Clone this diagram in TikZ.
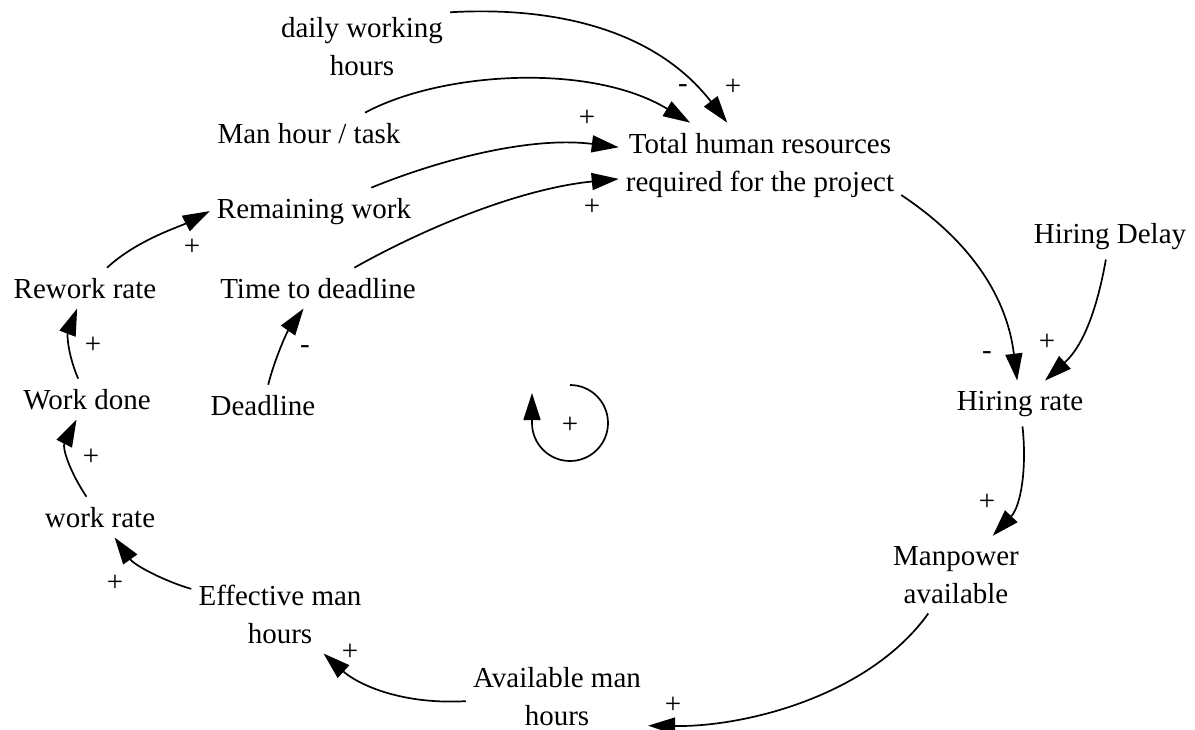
\documentclass[tikz,border=0pt]{standalone}
\usepackage{fontspec}
\setmainfont{Liberation Serif}
\usepackage{tikz}
\usetikzlibrary{arrows.meta}

\begin{document}
\begin{tikzpicture}[x=1pt, y=-1pt,
    every node/.style={font=\fontsize{29}{38}\selectfont},
    var/.style={align=center, anchor=base, inner xsep=7pt, inner ysep=10pt},
    sign/.style={inner sep=0pt},
    link/.style={line width=1.7pt, -{Triangle[length=27pt,width=17pt]}}]
    % Fix the size of the picture
    \path[use as bounding box] (0,0) rectangle (1195,729);

    % Draw the variables (base = last line)
    \node[var] (daily) at (362,75) {daily working\\hours};
    \node[var] (manhour) at (309,143) {Man hour / task};
    \node[var] (total) at (760,191) {Total human resources\\required for the project};
    \node[var] (remaining) at (314,218) {Remaining work};
    \node[var] (rework) at (85,298) {Rework rate};
    \node[var] (timeleft) at (318,298) {Time to deadline};
    \node[var] (done) at (87,409) {Work done};
    \node[var] (deadline) at (263,415) {Deadline};
    \node[var] (delay) at (1110,243) {Hiring Delay};
    \node[var] (hiring) at (1020,410) {Hiring rate};
    \node[var] (workrate) at (100,527) {work rate};
    \node[var] (effective) at (280,643) {Effective man\\hours};
    \node[var] (manpower) at (956,603) {Manpower\\available};
    \node[var] (avail) at (557,725) {Available man\\hours};

    % Draw the causal links
    \draw[link] (daily.21) .. controls (560,6) and (657,32) .. (total);
    \draw[link] (manhour.20) .. controls (440,72) and (590,62) .. (total);
    \draw[link] (remaining) .. controls (439,160) and (530,136) .. (total);
    \draw[link] (timeleft) .. controls (434,223) and (526,188) .. (total);
    \draw[link] (total.-12) .. controls (963,236) and (1006,290) .. (hiring);
    \draw[link] (delay) .. controls (1098,304) and (1085,344) .. (hiring);
    \draw[link] (hiring) .. controls (1027,468) and (1021,506) .. (manpower);
    \draw[link] (manpower) .. controls (870,695) and (747,727) .. (avail.-18);
    \draw[link] (avail) .. controls (397,705) and (355,682) .. (effective);
    \draw[link] (effective) .. controls (167,582) and (135,566) .. (workrate);
    \draw[link] (workrate) .. controls (70,472) and (62,448) .. (done);
    \draw[link] (done) .. controls (68,355) and (67,335) .. (rework);
    \draw[link] (rework) .. controls (137,240) and (179,227) .. (remaining.west);
    \draw[link] (deadline) .. controls (275,358) and (287,332) .. (timeleft);

    % Add the polarities
    \node[sign] (s1) at (733,87) {+};
    \node[sign] (s2) at (683,89) {-};
    \node[sign] (s3) at (587,118) {+};
    \node[sign] (s4) at (592,207) {+};
    \node[sign] (s5) at (987,356) {-};
    \node[sign] (s6) at (1047,342) {+};
    \node[sign] (s7) at (987,502) {+};
    \node[sign] (s8) at (673,705) {+};
    \node[sign] (s9) at (350,652) {+};
    \node[sign] (s10) at (115,583) {+};
    \node[sign] (s11) at (91,457) {+};
    \node[sign] (s12) at (93,345) {+};
    \node[sign] (s13) at (192,247) {+};
    \node[sign] (s14) at (305,350) {-};

    % Loop symbol
    \draw[link] (570,385) arc[start angle=-90, end angle=180, radius=38] -- ++(0,-30);
    \node[sign] (loop) at (570,425) {+};
\end{tikzpicture}
\end{document}
